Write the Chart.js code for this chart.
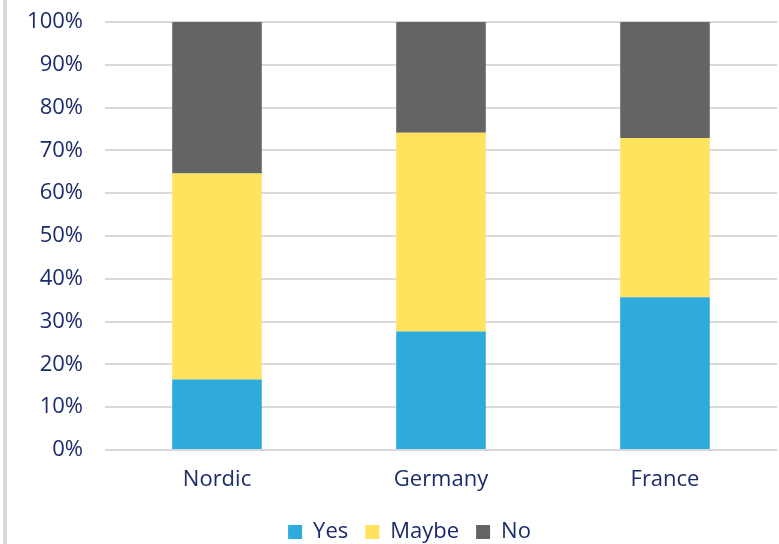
<!DOCTYPE html>
<html>
<head>
<meta charset="utf-8">
<script src="https://cdn.jsdelivr.net/npm/chart.js@4/dist/chart.umd.min.js"></script>
<style>
  body { margin: 0; background: #fff; overflow: hidden; }
  #wrap { position: relative; width: 779px; height: 544px; }
  #edge { position: absolute; left: 3px; top: 0; width: 4px; height: 544px; background: #dadada; }
</style>
</head>
<body>
<div id="wrap">
  <div id="edge"></div>
  <canvas id="myChart" width="779" height="544"></canvas>
</div>
<script>
let regions = ['Nordic', 'Germany', 'France'];
let yesValues = [16.5, 27.7, 35.7];
let maybeValues = [48.1, 46.4, 37.2];
let noValues = [35.4, 25.9, 27.1];

let textColor = '#1c2b6b';
let fontFamily = '"Open Sans", sans-serif';

let ctx = document.getElementById('myChart').getContext('2d');

// legend in the original is centred a bit right of the canvas
let legendShift = {
    id: 'legendShift',
    afterLayout: function(chart) {
        chart.legend.left += 42;
    }
};

let stackedChart = new Chart(ctx, {
    type: 'bar',
    data: {
        labels: regions,
        datasets: [{
            label: 'Yes',
            data: yesValues,
            backgroundColor: '#2eabdb'
        }, {
            label: 'Maybe',
            data: maybeValues,
            backgroundColor: '#ffe35f'
        }, {
            label: 'No',
            data: noValues,
            backgroundColor: '#646464'
        }]
    },
    plugins: [legendShift],
    options: {
        responsive: false,
        animation: false,
        layout: {
            padding: {top: 22, right: 2, bottom: -9, left: 0}
        },
        datasets: {
            bar: {
                categoryPercentage: 1,
                barPercentage: 0.4
            }
        },
        scales: {
            x: {
                stacked: true,
                afterFit: function(scale) { scale.height = 54; },
                grid: {display: false},
                border: {display: false},
                ticks: {
                    color: textColor,
                    font: {family: fontFamily, size: 22},
                    padding: 9
                }
            },
            y: {
                stacked: true,
                min: 0,
                max: 100,
                afterFit: function(scale) {
                    scale.width = 105;
                    scale.paddingTop = 0;
                    scale.paddingBottom = 0;
                },
                grid: {color: '#d9d9d9', lineWidth: 2, drawTicks: false},
                border: {display: false},
                ticks: {
                    stepSize: 10,
                    color: textColor,
                    font: {family: fontFamily, size: 22},
                    padding: 22,
                    callback: function(v) { return v + '%'; }
                }
            }
        },
        plugins: {
            tooltip: {enabled: false},
            legend: {
                position: 'bottom',
                labels: {
                    color: textColor,
                    font: {family: fontFamily, size: 22},
                    boxWidth: 14,
                    boxHeight: 14,
                    padding: 17
                }
            }
        }
    }
});
</script>
</body>
</html>
